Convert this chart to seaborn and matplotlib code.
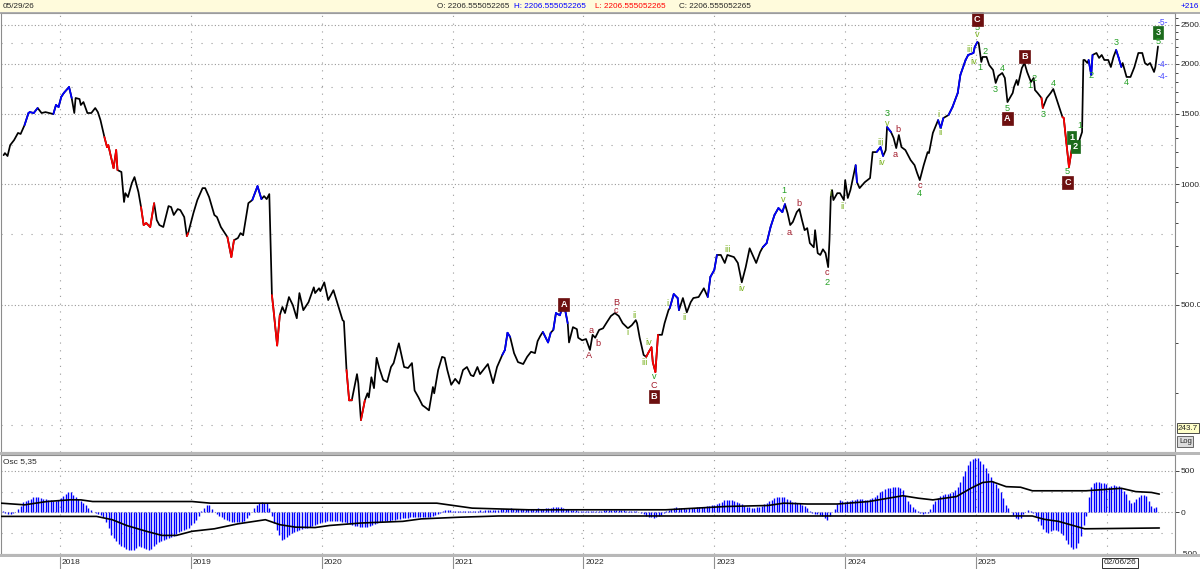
import matplotlib
matplotlib.use("Agg")
import matplotlib.pyplot as plt
import matplotlib.transforms as mtransforms
from matplotlib.patches import Rectangle
from matplotlib.lines import Line2D
from matplotlib.ticker import FixedLocator, NullFormatter
import numpy as np
import pandas as pd
import seaborn as sns

sns.set_style("white")
plt.rcParams['font.family'] = ['Liberation Sans', 'DejaVu Sans']
plt.rcParams['axes.unicode_minus'] = False

# ---- price path (decimal year, close), log scale ----
price_year = [
    2017.57, 2017.58, 2017.60, 2017.62, 2017.65, 2017.68, 2017.70, 2017.73, 2017.76, 2017.77,
    2017.80, 2017.83, 2017.86, 2017.89, 2017.95, 2017.97, 2017.99, 2018.01, 2018.03, 2018.07,
    2018.09, 2018.11, 2018.12, 2018.15, 2018.16, 2018.18, 2018.21, 2018.24, 2018.27, 2018.29,
    2018.31, 2018.34, 2018.36, 2018.37, 2018.41, 2018.43, 2018.44, 2018.47, 2018.49, 2018.50,
    2018.52, 2018.55, 2018.57, 2018.60, 2018.62, 2018.64, 2018.66, 2018.69, 2018.72, 2018.74,
    2018.76, 2018.79, 2018.83, 2018.85, 2018.87, 2018.90, 2018.92, 2018.95, 2018.97, 2018.98,
    2019.02, 2019.05, 2019.09, 2019.11, 2019.14, 2019.18, 2019.20, 2019.23, 2019.26, 2019.28,
    2019.31, 2019.33, 2019.36, 2019.38, 2019.40, 2019.44, 2019.47, 2019.51, 2019.54, 2019.56,
    2019.58, 2019.60, 2019.62, 2019.63, 2019.66, 2019.68, 2019.70, 2019.72, 2019.75, 2019.78,
    2019.81, 2019.83, 2019.86, 2019.90, 2019.94, 2019.95, 2019.98, 2019.99, 2020.02, 2020.05,
    2020.09, 2020.12, 2020.16, 2020.17, 2020.19, 2020.21, 2020.23, 2020.27, 2020.28, 2020.30,
    2020.33, 2020.35, 2020.36, 2020.38, 2020.40, 2020.42, 2020.44, 2020.47, 2020.50, 2020.53,
    2020.55, 2020.59, 2020.63, 2020.66, 2020.69, 2020.71, 2020.74, 2020.77, 2020.79, 2020.82,
    2020.85, 2020.86, 2020.89, 2020.92, 2020.94, 2020.96, 2020.99, 2021.02, 2021.05, 2021.08,
    2021.11, 2021.14, 2021.16, 2021.19, 2021.21, 2021.24, 2021.27, 2021.31, 2021.34, 2021.38,
    2021.40, 2021.42, 2021.44, 2021.47, 2021.50, 2021.54, 2021.57, 2021.60, 2021.63, 2021.65,
    2021.67, 2021.69, 2021.73, 2021.75, 2021.77, 2021.79, 2021.82, 2021.85, 2021.88, 2021.89,
    2021.92, 2021.95, 2021.96, 2021.99, 2022.02, 2022.05, 2022.07, 2022.09, 2022.12, 2022.15,
    2022.18, 2022.21, 2022.24, 2022.27, 2022.30, 2022.34, 2022.37, 2022.40, 2022.41, 2022.43,
    2022.46, 2022.48, 2022.50, 2022.52, 2022.53, 2022.55, 2022.57, 2022.60, 2022.62, 2022.65,
    2022.66, 2022.69, 2022.72, 2022.73, 2022.76, 2022.79, 2022.82, 2022.84, 2022.88, 2022.92,
    2022.95, 2022.97, 2023.00, 2023.02, 2023.05, 2023.08, 2023.10, 2023.15, 2023.18, 2023.21,
    2023.24, 2023.27, 2023.30, 2023.32, 2023.35, 2023.37, 2023.40, 2023.43, 2023.46, 2023.49,
    2023.52, 2023.54, 2023.56, 2023.58, 2023.60, 2023.63, 2023.65, 2023.67, 2023.69, 2023.71,
    2023.73, 2023.76, 2023.77, 2023.79, 2023.81, 2023.83, 2023.85, 2023.87, 2023.88, 2023.89,
    2023.90, 2023.91, 2023.94, 2023.96, 2023.99, 2024.00, 2024.02, 2024.04, 2024.08, 2024.09,
    2024.11, 2024.15, 2024.19, 2024.21, 2024.24, 2024.27, 2024.29, 2024.31, 2024.32, 2024.35,
    2024.37, 2024.39, 2024.41, 2024.43, 2024.46, 2024.50, 2024.53, 2024.55, 2024.57, 2024.60,
    2024.63, 2024.64, 2024.67, 2024.71, 2024.73, 2024.75, 2024.79, 2024.82, 2024.86, 2024.88,
    2024.92, 2024.94, 2024.98, 2024.99, 2025.01, 2025.02, 2025.04, 2025.05, 2025.08, 2025.10,
    2025.13, 2025.15, 2025.17, 2025.20, 2025.22, 2025.24, 2025.28, 2025.29, 2025.31, 2025.32,
    2025.35, 2025.37, 2025.39, 2025.42, 2025.44, 2025.45, 2025.47, 2025.50, 2025.51, 2025.54,
    2025.57, 2025.59, 2025.63, 2025.66, 2025.67, 2025.69, 2025.71, 2025.73, 2025.74, 2025.76,
    2025.79, 2025.81, 2025.82, 2025.83, 2025.85, 2025.86, 2025.88, 2025.89, 2025.92, 2025.94,
    2025.96, 2025.98, 2026.01, 2026.03, 2026.05, 2026.07, 2026.09, 2026.11, 2026.12, 2026.15,
    2026.18, 2026.21, 2026.24, 2026.27, 2026.29, 2026.31, 2026.33, 2026.36, 2026.37, 2026.39,
]
price_close = [
    1181, 1195, 1175, 1251, 1288, 1342, 1334, 1404, 1505, 1513,
    1505, 1549, 1505, 1513, 1496, 1576, 1558, 1650, 1689, 1748,
    1641, 1505, 1641, 1631, 1576, 1603, 1505, 1505, 1549, 1513,
    1445, 1311, 1237, 1251, 1096, 1216, 1084, 1072, 902, 949,
    928, 1006, 1041, 955, 876, 790, 799, 781, 896, 813,
    790, 781, 881, 876, 837, 866, 861, 827, 741, 754,
    846, 912, 977, 977, 928, 837, 827, 781, 754, 737,
    657, 724, 733, 754, 745, 896, 912, 988, 917, 933,
    917, 944, 528, 493, 395, 470, 493, 476, 522, 498,
    462, 534, 484, 507, 552, 534, 549, 540, 568, 513,
    543, 504, 457, 454, 343, 288, 288, 335, 318, 257,
    288, 300, 293, 329, 309, 368, 347, 324, 320, 349,
    357, 400, 349, 347, 357, 305, 293, 280, 277, 272,
    311, 300, 343, 370, 368, 343, 315, 326, 317, 343,
    349, 333, 331, 349, 335, 345, 355, 318, 349, 374,
    385, 425, 415, 378, 359, 355, 370, 381, 378, 405,
    417, 427, 402, 425, 432, 476, 470, 504, 449, 402,
    439, 434, 413, 407, 410, 385, 420, 413, 432, 436,
    452, 468, 476, 468, 449, 436, 444, 457, 449, 413,
    374, 370, 381, 391, 359, 339, 420, 420, 449, 484,
    490, 531, 519, 484, 519, 478, 507, 519, 522, 549,
    522, 586, 610, 665, 665, 635, 665, 657, 635, 568,
    620, 691, 657, 635, 676, 695, 712, 781, 837, 871,
    851, 891, 846, 790, 804, 851, 866, 813, 767, 776,
    712, 695, 767, 672, 665, 687, 672, 620, 724, 928,
    966, 912, 949, 949, 912, 1023, 923, 966, 1115, 1011,
    977, 1011, 1035, 1202, 1202, 1237, 1175, 1216, 1388, 1349,
    1304, 1230, 1326, 1237, 1216, 1148, 1115, 1065, 1023, 1115,
    1202, 1195, 1342, 1445, 1380, 1462, 1488, 1558, 1689, 1873,
    2042, 2102, 2126, 2201, 2265, 2252, 2019, 2078, 2078, 1984,
    1928, 1789, 1863, 1895, 1841, 1603, 1689, 1748, 1820, 1768,
    1950, 2007, 1906, 1799, 1841, 1718, 1689, 1641, 1549, 1641,
    1689, 1728, 1576, 1471, 1462, 1266, 1103, 1216, 1266, 1237,
    1288, 1349, 2042, 2042, 2007, 2042, 1873, 2102, 2126, 2066,
    2102, 2042, 2042, 1961, 2078, 2163, 2066, 1961, 2007, 1852,
    1852, 1961, 2126, 2126, 2007, 1984, 2007, 1906, 1961, 2206.56,
]

# stretches of the path drawn in blue / red (start year, end year)
blue_spans = [
    (2017.72, 2017.83), (2017.955, 2018.09), (2019.48, 2019.54), (2021.385, 2021.44),
    (2021.70, 2021.745), (2021.775, 2021.87), (2022.67, 2022.73), (2022.955, 2023.015),
    (2023.38, 2023.535), (2024.08, 2024.09), (2024.25, 2024.285), (2024.33, 2024.34),
    (2024.715, 2024.745), (2024.78, 2025.005), (2025.865, 2025.89), (2026.075, 2026.11),
]
red_spans = [
    (2018.34, 2018.44), (2018.62, 2018.72), (2018.97, 2018.985), (2019.28, 2019.33),
    (2019.62, 2019.68), (2020.195, 2020.225), (2020.305, 2020.325), (2022.48, 2022.57),
    (2025.50, 2025.515), (2025.66, 2025.735),
]

# ---- Osc 5,35 weekly histogram ----
osc_start = 2017.565
osc_step = 0.0192   # one week, in years
osc_values = [
    10, -10, -20, -15, -10, 5, 40, 80, 120, 140,
    150, 165, 180, 185, 182, 175, 165, 155, 148, 145,
    142, 140, 150, 170, 195, 220, 245, 250, 205, 180,
    155, 135, 110, 85, 55, 25, 8, -5, -15, -30,
    -60, -120, -195, -270, -310, -345, -380, -405, -425, -445,
    -452, -458, -455, -430, -410, -418, -428, -448, -460, -440,
    -410, -385, -365, -350, -335, -325, -312, -298, -285, -260,
    -240, -225, -210, -198, -185, -160, -132, -95, -40, 20,
    55, 85, 85, 45, 5, -25, -45, -62, -80, -95,
    -105, -112, -118, -120, -118, -114, -100, -70, -35, 5,
    50, 85, 110, 120, 118, 110, 50, -50, -130, -210,
    -280, -330, -320, -300, -272, -255, -235, -222, -212, -202,
    -195, -190, -182, -170, -155, -138, -125, -118, -112, -108,
    -104, -100, -100, -104, -108, -112, -118, -126, -140, -158,
    -165, -172, -180, -182, -182, -180, -168, -155, -140, -125,
    -118, -114, -111, -108, -102, -95, -88, -82, -76, -70,
    -68, -65, -63, -61, -60, -58, -57, -56, -55, -53,
    -52, -50, -38, -25, -12, 10, 25, 30, 22, 14,
    12, 10, 14, 16, 18, 15, 18, 20, 18, 20,
    22, 20, 24, 26, 25, 28, 30, 30, 34, 38,
    42, 45, 46, 44, 42, 40, 38, 40, 42, 40,
    38, 40, 44, 46, 45, 45, 48, 52, 55, 58,
    60, 62, 58, 50, 42, 35, 30, 25, 22, 20,
    18, 15, 14, 12, 12, 14, 15, 18, 20, 22,
    22, 24, 25, 25, 26, 25, 24, 22, 20, 18,
    15, 12, 10, 5, -10, -25, -40, -52, -62, -70,
    -58, -45, -30, -10, 10, 30, 42, 52, 60, 56,
    52, 48, 45, 46, 50, 54, 58, 60, 62, 66,
    70, 76, 82, 88, 100, 115, 130, 143, 148, 150,
    146, 140, 125, 112, 95, 78, 66, 58, 52, 52,
    58, 66, 78, 98, 118, 135, 152, 168, 180, 185,
    186, 180, 162, 145, 128, 120, 115, 108, 92, 70,
    50, 15, -8, -15, -22, -32, -40, -65, -88, -45,
    0, 40, 100, 150, 140, 130, 135, 142, 150, 153,
    156, 160, 156, 152, 150, 160, 172, 186, 210, 240,
    262, 278, 290, 298, 302, 304, 302, 290, 270, 200,
    140, 95, 60, 35, 10, -8, -15, -14, -8, 45,
    100, 140, 175, 192, 210, 222, 225, 228, 240, 275,
    310, 370, 440, 505, 570, 625, 640, 655, 662, 620,
    580, 530, 480, 430, 380, 340, 290, 240, 170, 85,
    55, 5, -35, -70, -85, -70, -25, 5, 25, 15,
    -10, -40, -100, -150, -200, -235, -250, -230, -212, -220,
    -228, -250, -275, -330, -380, -425, -445, -430, -370, -290,
    -160, -50, 180, 300, 360, 365, 362, 360, 352, 340,
    310, 320, 330, 322, 312, 290, 260, 225, 150, 115,
    125, 160, 190, 210, 205, 192, 140, 80, 52, 68,
]

# oscillator bands
band_up_year = [2017.55, 2017.73, 2017.90, 2018.08, 2018.16, 2018.25, 2019.01, 2019.15,
                2020.88, 2021.15, 2021.58, 2022.63, 2022.86, 2023.09, 2023.41, 2023.53,
                2023.71, 2023.94, 2024.18, 2024.44, 2024.56, 2024.67, 2024.85, 2024.96,
                2025.05, 2025.12, 2025.23, 2025.34, 2025.43, 2025.84, 2025.93, 2026.11,
                2026.22, 2026.34, 2026.40]
band_up = [110, 90, 130, 151, 150, 130, 130, 110,
           110, 50, 30, 30, 50, 70, 82, 110,
           100, 100, 130, 200, 170, 150, 190, 290,
           360, 372, 310, 303, 260, 260, 270, 290,
           250, 240, 220]
band_lo_year = [2017.55, 2018.28, 2018.40, 2018.51, 2018.66, 2018.78, 2018.89, 2019.01,
                2019.18, 2019.36, 2019.57, 2019.68, 2019.80, 2019.95, 2020.06, 2020.30,
                2020.62, 2020.76, 2021.05, 2021.35, 2025.43, 2025.52, 2025.63, 2025.83,
                2026.40]
band_lo = [-50, -50, -90, -160, -230, -280, -280, -230,
           -200, -140, -90, -150, -180, -185, -160, -130,
           -110, -80, -60, -45, -45, -85, -110, -200,
           -190]

# wave labels: (year, price, text, kind)
wave_labels = [
    (2021.85, 501, 'A', 'R'), (2022.06, 430, 'a', 'r'), (2022.11, 400, 'b', 'r'),
    (2022.04, 372, 'A', 'r'), (2022.25, 507, 'B', 'r'), (2022.25, 484, 'c', 'r'),
    (2022.39, 470, 'ii', 'y'), (2022.34, 425, 'i', 'y'), (2022.50, 402, 'iv', 'y'),
    (2022.47, 359, 'iii', 'y'), (2022.54, 331, 'v', 'g'), (2022.54, 313, 'C', 'r'),
    (2022.54, 295, 'B', 'R'), (2022.64, 504, 'i', 'y'), (2022.77, 465, 'ii', 'y'),
    (2023.10, 687, 'iii', 'y'), (2023.21, 549, 'iv', 'y'), (2023.53, 966, '1', 'g'),
    (2023.53, 917, 'v', 'y'), (2023.57, 758, 'a', 'r'), (2023.65, 896, 'b', 'r'),
    (2023.86, 600, 'c', 'r'), (2023.86, 568, '2', 'g'), (2023.89, 949, 'i', 'y'),
    (2023.98, 881, 'ii', 'y'), (2024.27, 1273, 'iii', 'y'), (2024.28, 1135, 'iv', 'y'),
    (2024.32, 1505, '3', 'g'), (2024.32, 1420, 'v', 'y'), (2024.40, 1372, 'b', 'r'),
    (2024.38, 1188, 'a', 'r'), (2024.57, 994, 'c', 'r'), (2024.57, 949, '4', 'g'),
    (2024.71, 1496, 'i', 'y'), (2024.73, 1342, 'ii', 'y'), (2024.95, 2163, 'iii', 'y'),
    (2024.98, 2030, 'iv', 'y'), (2025.01, 2371, 'v', 'y'), (2025.01, 2468, '5', 'g'),
    (2025.01, 2585, 'C', 'R'), (2025.03, 1961, '1', 'g'), (2025.07, 2150, '2', 'g'),
    (2025.15, 1728, '3', 'g'), (2025.20, 1939, '4', 'g'), (2025.24, 1549, '5', 'g'),
    (2025.24, 1462, 'A', 'R'), (2025.37, 2078, 'B', 'R'), (2025.44, 1831, '2', 'g'),
    (2025.41, 1768, '1', 'g'), (2025.51, 1496, '3', 'g'), (2025.59, 1779, '4', 'g'),
    (2025.70, 1072, '5', 'g'), (2025.70, 1011, 'C', 'R'), (2025.79, 1404, '1', 'g'),
    (2025.73, 1304, '1', 'G'), (2025.76, 1244, '2', 'G'), (2025.88, 1863, '2', 'g'),
    (2026.07, 2252, '3', 'g'), (2026.15, 1789, '4', 'g'), (2026.39, 2396, '3', 'G'),
    (2026.39, 2265, '5', 'g'), (2026.43, 2540, '-5-', 'b'), (2026.43, 1995, '-4-', 'b'),
    (2026.43, 1852, '-4-', 'b'),
]

years = [2018, 2019, 2020, 2021, 2022, 2023, 2024, 2025]
price_ticks = [500, 1000, 1500, 2000, 2500]
price_tick_labels = ['500.0', '1000.', '1500.', '2000.', '2500.']

# ---- figure ----
W, H = 1200, 569
fig = plt.figure(figsize=(W / 100, H / 100), dpi=100)
fig.patch.set_facecolor('white')


def fx(px):
    return px / W


def fy(py):
    return 1 - py / H


ax = fig.add_axes([fx(1), fy(452), fx(1175) - fx(1), fy(13) - fy(452)])
ax2 = fig.add_axes([fx(1), fy(554), fx(1175) - fx(1), fy(455) - fy(554)])

grid_c = '#9a9a9a'
dense = (0, (1, 2))
sparse = (0, (1, 8))
fs = 6.0

# price line
df = pd.DataFrame({'year': price_year, 'close': price_close})
sns.lineplot(data=df, x='year', y='close', ax=ax, color='black', lw=1.25,
             estimator=None, sort=False, zorder=3)
xs = df['year'].to_numpy()
ys = df['close'].to_numpy()
mid = (xs[:-1] + xs[1:]) / 2
for spans, col in [(blue_spans, '#0000ff'), (red_spans, '#ff0000')]:
    for a, b in spans:
        for i in np.where((mid >= a) & (mid <= b))[0]:
            ax.plot(xs[i:i + 2], ys[i:i + 2], color=col, lw=1.25,
                    solid_capstyle='round', zorder=4)

ax.set_yscale('log')
ax.set_ylim(214, 2676)
ax.set_xlim(2017.55, 2026.52)
ax.set_xlabel('')
ax.set_ylabel('')
ax.yaxis.tick_right()
ax.yaxis.set_major_locator(FixedLocator(price_ticks))
ax.set_yticklabels(price_tick_labels)
ax.yaxis.set_minor_locator(FixedLocator([v for v in range(300, 2700, 100) if v not in price_ticks]))
ax.yaxis.set_minor_formatter(NullFormatter())
ax.tick_params(axis='y', which='major', length=3, width=0.6, pad=1, labelsize=fs)
ax.tick_params(axis='y', which='minor', length=2, width=0.6)
ax.tick_params(axis='x', bottom=False, labelbottom=False)

for lv in price_ticks:
    ax.axhline(lv, color=grid_c, lw=0.8, ls=dense, zorder=0)
for lv in [250, 750, 1250, 1750, 2250]:
    ax.axhline(lv, color=grid_c, lw=0.8, ls=sparse, zorder=0)
for yr in years + [2026]:
    ax.axvline(yr, color=grid_c, lw=0.8, ls=(0, (1, 6)), zorder=0)

style_map = {
    'g': dict(color='#25a025'),
    'y': dict(color='#78b01c'),
    'r': dict(color='#a31c2c'),
    'b': dict(color='#4a4aff', fontsize=6.2),
    'R': dict(color='white', fontweight='bold',
              bbox=dict(boxstyle='square,pad=0.22', fc='#6d1010', ec='#6d1010', lw=0.5)),
    'G': dict(color='white', fontweight='bold',
              bbox=dict(boxstyle='square,pad=0.22', fc='#1c6b1c', ec='#1c6b1c', lw=0.5)),
}
for yr, val, txt, kind in wave_labels:
    kw = dict(fontsize=6.6)
    kw.update(style_map[kind])
    ax.text(yr, val, txt, ha='center', va='center', zorder=6, **kw)

# oscillator
osc_year = osc_start + osc_step * np.arange(len(osc_values))
ax2.vlines(osc_year, 0, osc_values, color='#0000ff', lw=1.0, zorder=2)
sns.lineplot(x=band_up_year, y=band_up, ax=ax2, color='black', lw=1.2,
             estimator=None, sort=False, zorder=3)
sns.lineplot(x=band_lo_year, y=band_lo, ax=ax2, color='black', lw=1.2,
             estimator=None, sort=False, zorder=3)
ax2.set_xlim(2017.55, 2026.52)
ax2.set_ylim(-505, 693)
ax2.set_xlabel('')
ax2.set_ylabel('')
ax2.yaxis.tick_right()
ax2.set_yticks([500, 0, -500])
ax2.set_yticklabels(['500', '0', '-500'])
ax2.tick_params(axis='y', length=3, width=0.6, pad=1, labelsize=fs)
ax2.tick_params(axis='x', bottom=False, labelbottom=False)
for lv in [500, 0]:
    ax2.axhline(lv, color=grid_c, lw=0.8, ls=dense, zorder=0)
for lv in [250, -250]:
    ax2.axhline(lv, color=grid_c, lw=0.8, ls=sparse, zorder=0)
for yr in years + [2026]:
    ax2.axvline(yr, color=grid_c, lw=0.8, ls=(0, (1, 6)), zorder=0)
ax2.text(0.002, 0.965, 'Osc 5,35', transform=ax2.transAxes, va='top', ha='left', fontsize=fs)

for a in (ax, ax2):
    for s in a.spines.values():
        s.set_color('#8c8c8c')
        s.set_linewidth(0.8)

# separators, header and bottom strip
fig.add_artist(Rectangle((0, fy(455)), 1, fy(452) - fy(455), transform=fig.transFigure,
                         fc='#b8b8b8', ec='none'))
fig.add_artist(Rectangle((0, fy(569)), 1, fy(554) - fy(569), transform=fig.transFigure,
                         fc='white', ec='none'))
fig.add_artist(Rectangle((0, fy(557)), 1, fy(554) - fy(557), transform=fig.transFigure,
                         fc='#b8b8b8', ec='none'))
fig.add_artist(Rectangle((0, fy(12)), 1, fy(0) - fy(12), transform=fig.transFigure,
                         fc='#fffbdc', ec='none'))
fig.add_artist(Line2D([0, 1], [fy(12.5), fy(12.5)], transform=fig.transFigure,
                      color='#a0a0a0', lw=1.2))

hdr_y = fy(6)
hkw = dict(va='center', ha='left', fontsize=5.9)
fig.text(fx(3), hdr_y, '05/29/26', **hkw)
fig.text(fx(437), hdr_y, 'O: 2206.555052265', **hkw)
fig.text(fx(514), hdr_y, 'H: 2206.555052265', color='#0000ff', **hkw)
fig.text(fx(595), hdr_y, 'L: 2206.555052265', color='#ff0000', **hkw)
fig.text(fx(679), hdr_y, 'C: 2206.555052265', **hkw)
fig.text(fx(1199), hdr_y, '+216', va='center', ha='right', fontsize=5.9, color='#0000ff')

# bottom date axis
blend = mtransforms.blended_transform_factory(ax2.transData, fig.transFigure)
shift = mtransforms.ScaledTranslation(2 / 100, 0, fig.dpi_scale_trans)
for yr in years:
    fig.add_artist(Line2D([yr, yr], [fy(557), fy(569)], transform=blend, color='#909090', lw=0.8))
    fig.text(yr, fy(563), str(yr), transform=blend + shift, va='center', ha='left', fontsize=fs)
fig.text(2026.10, fy(563), '02/06/26', transform=blend, va='center', ha='center', fontsize=fs,
         bbox=dict(boxstyle='square,pad=0.18', fc='white', ec='#303030', lw=0.7))

# right column markers
fig.text(fx(1178), fy(428), '243.7', va='center', ha='left', fontsize=5.8,
         bbox=dict(boxstyle='square,pad=0.15', fc='#ffffc8', ec='#303030', lw=0.6))
fig.text(fx(1179), fy(441.5), 'Log', va='center', ha='left', fontsize=5.5,
         bbox=dict(boxstyle='square,pad=0.2', fc='#dcdcdc', ec='#505050', lw=0.6))

fig.savefig('out.png', dpi=100)
